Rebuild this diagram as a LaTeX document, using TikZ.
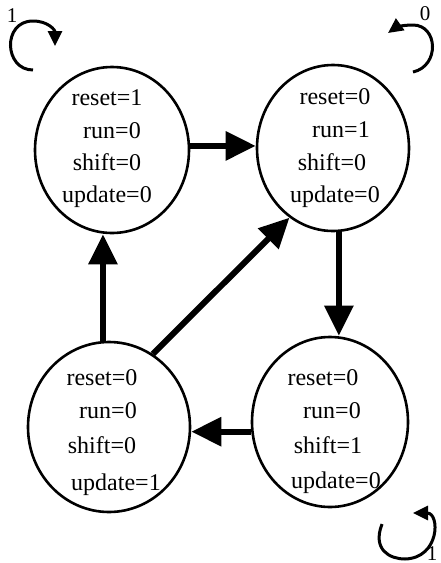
\documentclass[tikz,border=0pt]{standalone}
\usepackage{fontspec}
\setmainfont{Liberation Serif}
\usetikzlibrary{arrows.meta,shapes.geometric,calc}
\begin{document}
\begin{tikzpicture}[x=1pt,y=-1pt,
  state/.style={draw, ellipse, line width=2.6pt, inner sep=0pt},
  flow/.style={line width=6pt, -{Triangle[length=30pt,width=28pt]}},
  selfloop/.style={line width=3pt, -{Triangle[length=15pt,width=14pt]}},
  lbl/.style={font=\fontsize{24}{24}\selectfont, anchor=base, inner sep=0pt},
  looplbl/.style={font=\fontsize{21}{21}\selectfont, anchor=base, inner sep=0pt},
]
\useasboundingbox (0,0) rectangle (440,563);

% the four states
\node[state, minimum width=154pt, minimum height=166pt] (tl) at (112,150) {};
\node[state, minimum width=152pt, minimum height=166pt] (tr) at (333,148) {};
\node[state, minimum width=162pt, minimum height=170pt] (bl) at (109,427) {};
\node[state, minimum width=156pt, minimum height=170pt] (br) at (330,422) {};

% output values of each state
\node[lbl] (tla) at (107,105) {reset=1};
\node[lbl] (tlb) at (112,138) {run=0};
\node[lbl] (tlc) at (107,170) {shift=0};
\node[lbl] (tld) at (107,202) {update=0};

\node[lbl] (tra) at (335,104) {reset=0};
\node[lbl] (trb) at (341,137) {run=1};
\node[lbl] (trc) at (332,170) {shift=0};
\node[lbl] (trd) at (335,202) {update=0};

\node[lbl] (bla) at (102,385) {reset=0};
\node[lbl] (blb) at (108,418) {run=0};
\node[lbl] (blc) at (102,453) {shift=0};
\node[lbl] (bld) at (116,490) {update=1};

\node[lbl] (bra) at (323,385) {reset=0};
\node[lbl] (brb) at (332,418) {run=0};
\node[lbl] (brc) at (328,453) {shift=1};
\node[lbl] (brd) at (336,488) {update=0};

% transitions
\draw[flow] (tl.3) -- (tl.3 -| tr.west);
\draw[flow] (tr.-86) -- (tr.-86 |- br.north);
\draw[flow] (br.187) -- (br.187 -| bl.east);
\draw[flow] (bl.94) -- (bl.94 |- tl.south);
\draw[flow] (bl.59) -- (tr.238);

% self loops
\draw[selfloop] (33,70) .. controls (4,70) and (2,21) .. (33,21)
  .. controls (48,21) and (55,30) .. (55,46);
\node[looplbl] (l1) at (12,22) {1};

\draw[selfloop] (413,72) .. controls (440,66) and (438,25) .. (413,25)
  .. controls (401,25) and (395,28) .. (388,33);
\node[looplbl] (l0) at (425,20) {0};

\draw[selfloop] (382,524) .. controls (372,550) and (390,559) .. (405,559)
  .. controls (440,558) and (440,513) .. (413,513);
\node[looplbl] (l2) at (432,560) {1};
\end{tikzpicture}
\end{document}
